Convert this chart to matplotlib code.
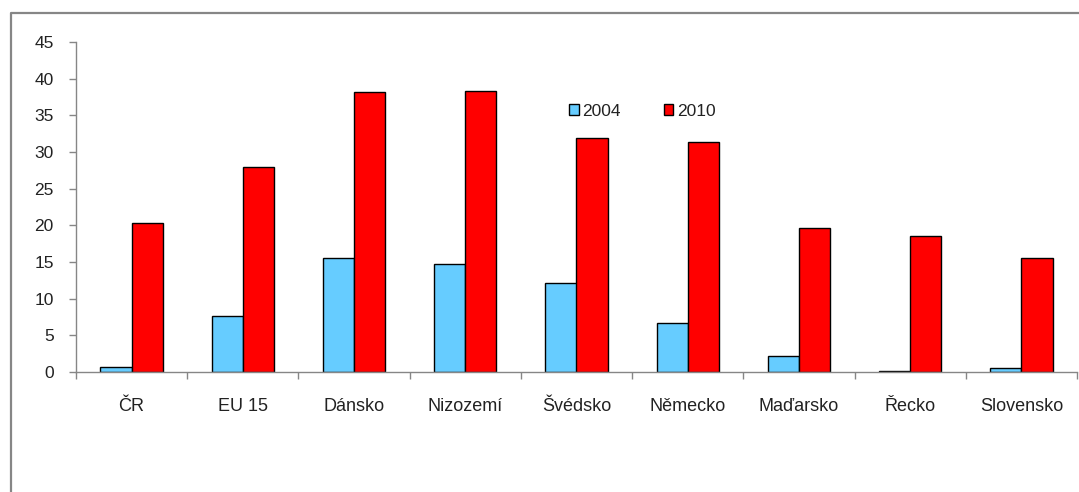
import matplotlib.pyplot as plt
from matplotlib.lines import Line2D
import numpy as np

plt.rcParams['font.family'] = ['Liberation Sans', 'DejaVu Sans']

categories = ['ČR', 'EU 15', 'Dánsko', 'Nizozemí', 'Švédsko', 'Německo', 'Maďarsko', 'Řecko', 'Slovensko']
vals_2004 = [0.7, 7.7, 15.6, 14.7, 12.1, 6.7, 2.2, 0.2, 0.5]
vals_2010 = [20.3, 28.0, 38.2, 38.3, 31.9, 31.3, 19.6, 18.5, 15.6]
series_names = ['2004', '2010']
y_ticks = [0, 5, 10, 15, 20, 25, 30, 35, 40, 45]

W, H = 1079, 492
fig = plt.figure(figsize=(W / 100, H / 100), dpi=100)
ax = fig.add_axes([76 / W, 1 - 372 / H, 1001 / W, 330 / H])

x = np.arange(len(categories))
bw = 0.28
grey = '#868686'
ax.bar(x - bw / 2, vals_2004, bw, color='#66CCFF', edgecolor='black', linewidth=1.0, label=series_names[0])
ax.bar(x + bw / 2, vals_2010, bw, color='#FF0000', edgecolor='black', linewidth=1.0, label=series_names[1])

ax.set_xlim(-0.5, len(categories) - 0.5)
ax.set_ylim(0, 45)
ax.set_yticks(y_ticks)
ax.set_yticklabels([str(t) for t in y_ticks], fontsize=12.5, color='#222222')

# category labels centered, ticks on the category boundaries
ax.set_xticks(x)
ax.set_xticklabels(categories, fontsize=13, color='#222222')
ax.tick_params(axis='x', length=0, pad=19)
ax.set_xticks(np.arange(len(categories) + 1) - 0.5, minor=True)
ax.tick_params(axis='x', which='minor', length=5, color=grey, width=1)
ax.tick_params(axis='y', length=5, color=grey, width=1, pad=11)

for s in ['top', 'right']:
    ax.spines[s].set_visible(False)
for s in ['left', 'bottom']:
    ax.spines[s].set_color(grey)
    ax.spines[s].set_linewidth(1)

leg = fig.legend(loc='center left', bbox_to_anchor=(569 / W, 1 - 111 / H), ncol=2,
                 frameon=False, fontsize=12.5, handlelength=0.55, handleheight=0.55,
                 handletextpad=0.2, columnspacing=2.5, borderaxespad=0, borderpad=0)
for t in leg.get_texts():
    t.set_color('#222222')

# outer chart frame (only left and top visible)
fig.add_artist(Line2D([10.5 / W, 10.5 / W, 1.0], [0, 1 - 13 / H, 1 - 13 / H],
                      transform=fig.transFigure, color=grey, linewidth=1.6))

fig.savefig('out.png', dpi=100)
